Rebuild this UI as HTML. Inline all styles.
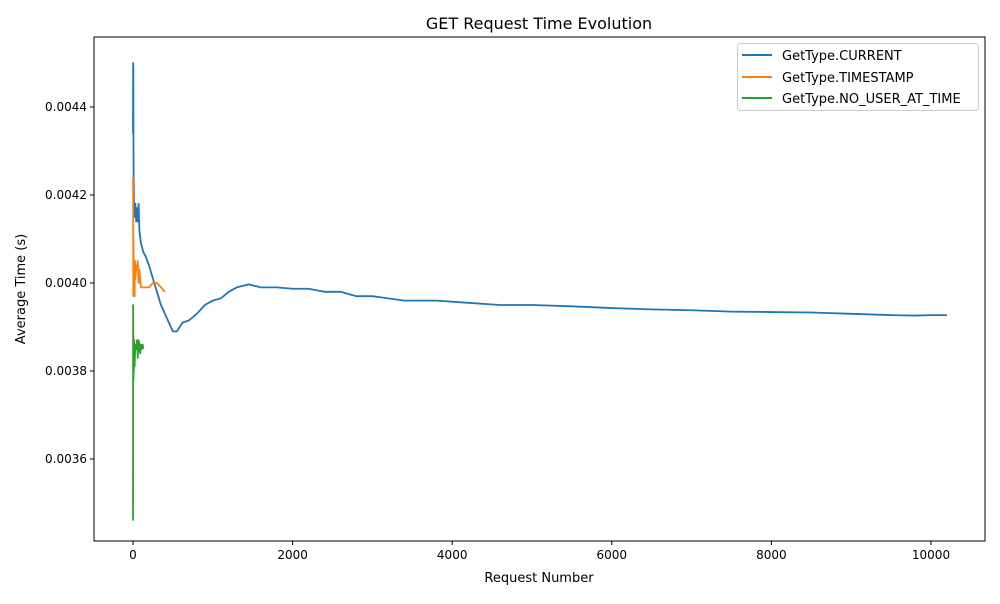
<!DOCTYPE html>
<html><head><meta charset="utf-8"><style>
body{margin:0;background:#fff;font-family:"DejaVu Sans","Liberation Sans",sans-serif}
</style></head><body>
<svg id="chart" width="1000" height="600" xmlns="http://www.w3.org/2000/svg" font-family="DejaVu Sans, Liberation Sans, sans-serif">
<rect width="1000" height="600" fill="#fff"/>
<text x="539" y="29" text-anchor="middle" font-size="16">GET Request Time Evolution</text>
<g id="plot"></g>
<rect x="94" y="37" width="891" height="504" fill="none" stroke="#000" stroke-width="1"/>
<text x="539" y="582" text-anchor="middle" font-size="13">Request Number</text>
<text transform="translate(25,289) rotate(-90)" text-anchor="middle" font-size="13">Average Time (s)</text>
<g>
<rect x="737.5" y="43.5" width="241" height="67" rx="3" fill="#fff" stroke="#ccc"/>
<line x1="742" y1="55" x2="772" y2="55" stroke="#1f77b4" stroke-width="2"/>
<text x="782" y="60" font-size="13">GetType.CURRENT</text>
<line x1="742" y1="77" x2="772" y2="77" stroke="#ff7f0e" stroke-width="2"/>
<text x="782" y="82" font-size="13">GetType.TIMESTAMP</text>
<line x1="742" y1="98" x2="772" y2="98" stroke="#2ca02c" stroke-width="2"/>
<text x="782" y="103" font-size="13">GetType.NO_USER_AT_TIME</text>
</g>
</svg>
<script>
const xTicks=[0,2000,4000,6000,8000,10000];
const yTicks=[0.0036,0.0038,0.0040,0.0042,0.0044];
const yTickLabels=["0.0036","0.0038","0.0040","0.0042","0.0044"];
const currentX=[0,2,4,6,8,12,20,30,40,50,60,70,80,100,130,160,200,250,300,350,400,450,500,550,620,700,800,900,1000,1100,1200,1300,1450,1600,1800,2000,2200,2400,2600,2800,3000,3400,3800,4200,4600,5000,5500,6000,6500,7000,7500,8000,8500,9000,9500,9800,10000,10200];
const currentY=[0.00434,0.00450,0.00449,0.00432,0.00424,0.00419,0.00415,0.00418,0.00414,0.00417,0.00414,0.00418,0.00412,0.00409,0.00407,0.00406,0.00404,0.00401,0.00398,0.00395,0.00393,0.00391,0.00389,0.00389,0.00391,0.003915,0.00393,0.00395,0.00396,0.003965,0.00398,0.00399,0.003997,0.00399,0.00399,0.003987,0.003987,0.00398,0.00398,0.00397,0.00397,0.00396,0.00396,0.003955,0.00395,0.00395,0.003947,0.003943,0.00394,0.003938,0.003935,0.003934,0.003933,0.00393,0.003927,0.003926,0.003927,0.003927];
const tsX=[0,2,4,6,10,15,20,25,30,40,50,60,70,80,100,130,160,200,250,300,350,400];
const tsY=[0.00424,0.00420,0.00397,0.00410,0.00399,0.00403,0.00397,0.00405,0.00401,0.00404,0.00403,0.00405,0.00400,0.00403,0.00399,0.00399,0.00399,0.00399,0.00400,0.00400,0.00399,0.00398];
const nuX=[0,1,2,3,4,6,8,10,15,20,25,30,40,50,60,70,80,90,100,110,120,130];
const nuY=[0.00346,0.00370,0.00395,0.00380,0.00388,0.00378,0.00385,0.00380,0.00387,0.00381,0.00384,0.00386,0.00385,0.00387,0.00383,0.00387,0.00386,0.00384,0.00386,0.00385,0.00386,0.00385];
const L=94,R=985,T=37,B=541;
const sx=v=>133+v*0.0798;
const sy=v=>283-(v-0.0040)/0.0002*88;
const NS="http://www.w3.org/2000/svg";
const g=document.getElementById('plot');
xTicks.forEach(t=>{
  const x=sx(t);
  const l=document.createElementNS(NS,'line');
  
  
  l.setAttribute('x1',x);l.setAttribute('x2',x);l.setAttribute('y1',B);l.setAttribute('y2',B+4);l.setAttribute('stroke','#000');
  g.appendChild(l);
  const tx=document.createElementNS(NS,'text');
  
  
  tx.setAttribute('x',x);tx.setAttribute('y',B+18);tx.setAttribute('text-anchor','middle');tx.setAttribute('font-size','12');
  tx.textContent=t;g.appendChild(tx);
});
yTicks.forEach((t,i)=>{
  const y=sy(t);
  const l=document.createElementNS(NS,'line');
  
  
  l.setAttribute('x1',L-4);l.setAttribute('x2',L);l.setAttribute('y1',y);l.setAttribute('y2',y);l.setAttribute('stroke','#000');
  g.appendChild(l);
  const tx=document.createElementNS(NS,'text');
  
  
  tx.setAttribute('x',L-7);tx.setAttribute('y',y+4);tx.setAttribute('text-anchor','end');tx.setAttribute('font-size','12');
  tx.textContent=yTickLabels[i];g.appendChild(tx);
});
function line(xs,ys,color,name){
  const p=document.createElementNS(NS,'polyline');
  
  
  p.setAttribute('points',xs.map((x,i)=>sx(x).toFixed(2)+','+sy(ys[i]).toFixed(2)).join(' '));
  p.setAttribute('fill','none');p.setAttribute('stroke',color);p.setAttribute('stroke-width','1.8');p.setAttribute('stroke-linejoin','round');
  g.appendChild(p);
}
line(currentX,currentY,'#1f77b4','series-current');
line(tsX,tsY,'#ff7f0e','series-timestamp');
line(nuX,nuY,'#2ca02c','series-no-user-at-time');
</script>
</body></html>
